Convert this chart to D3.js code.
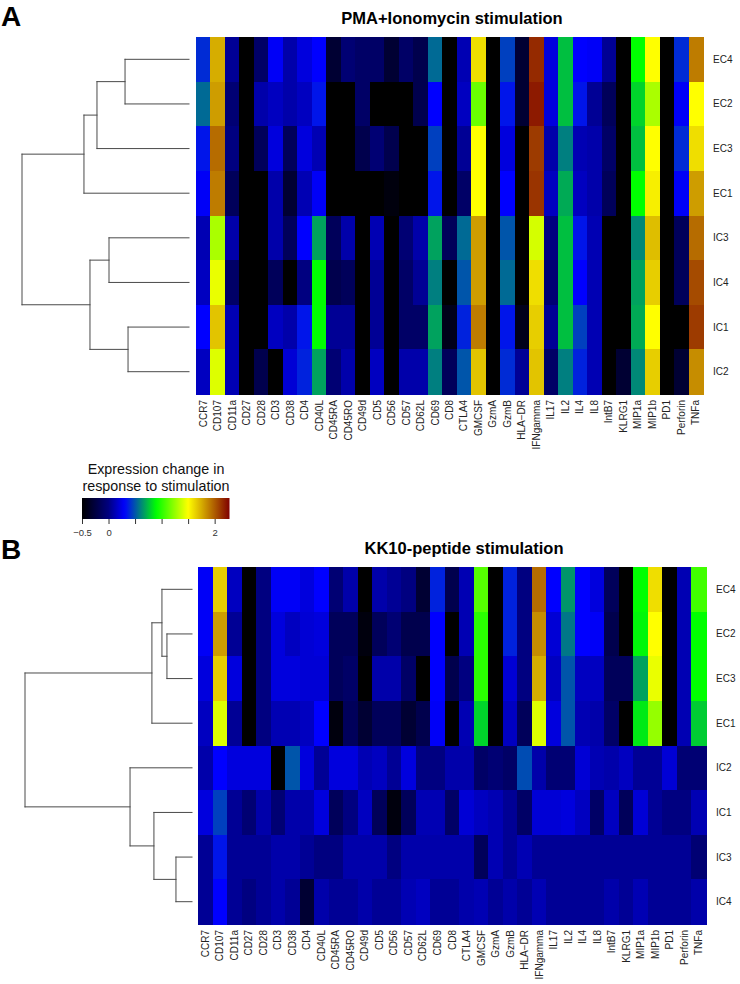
<!DOCTYPE html>
<html>
<head>
<meta charset="utf-8">
<script src="https://cdn.jsdelivr.net/npm/d3@7/dist/d3.min.js"></script>
<style>
  html, body { margin: 0; padding: 0; background: #fff; }
  svg { display: block; font-family: "Liberation Sans", Arial, Helvetica, sans-serif; }
</style>
</head>
<body>
<svg id="chart" width="740" height="984"></svg>
<script>
// ---------------- DATA ----------------
const markers = ["CCR7","CD107","CD11a","CD27","CD28","CD3","CD38","CD4","CD40L","CD45RA","CD45RO","CD49d","CD5","CD56","CD57","CD62L","CD69","CD8","CTLA4","GMCSF","GzmA","GzmB","HLA\u2212DR","IFNgamma","IL17","IL2","IL4","IL8","IntB7","KLRG1","MIP1a","MIP1b","PD1","Perforin","TNFa"];

const rowsA = ["EC4","EC2","EC3","EC1","IC3","IC4","IC1","IC2"];
const valuesA = [
  [0.4, 1.75, 0.05, -0.5, -0.1, 0.28, 0.1, 0.22, 0.3, -0.3, -0.05, -0.1, -0.1, -0.3, -0.1, -0.2, 0.55, -0.5, 0.12, 1.6, -0.5, 0.45, -0.3, 2.15, 0.22, 0.75, 0.3, 0.28, 0.05, -0.5, 0.9, 1.5, -0.5, 0.4, 1.9],
  [0.55, 1.8, -0.05, -0.5, 0.1, 0.15, 0.1, 0.15, 0.35, -0.5, -0.5, -0.1, -0.5, -0.5, -0.5, -0.2, 0.3, -0.5, 0.15, 1.15, -0.5, 0.35, -0.3, 2.2, 0.22, 0.75, 0.35, 0.05, -0.15, -0.5, 0.8, 1.3, -0.5, 0.28, 1.5],
  [0.35, 1.95, 0, -0.5, -0.15, 0.22, -0.15, 0.22, 0.12, -0.5, -0.5, -0.2, -0.05, -0.2, -0.5, -0.5, 0.45, -0.5, 0.05, 1.5, -0.5, 0.22, -0.5, 2.1, 0.1, 0.6, 0.12, 0.1, -0.1, -0.5, 0.75, 1.5, -0.5, 0.4, 1.6],
  [0.28, 1.9, -0.15, -0.5, -0.5, 0.1, -0.3, 0.12, 0.28, -0.5, -0.5, -0.5, -0.5, -0.45, -0.5, -0.5, 0.35, -0.5, -0.1, 1.5, -0.5, 0.3, -0.5, 2.12, 0.15, 0.7, 0.15, 0.1, -0.15, -0.5, 0.9, 1.55, -0.5, 0.28, 1.8],
  [0.12, 1.3, 0.1, -0.5, -0.5, 0.1, -0.15, 0.3, 0.68, -0.15, 0.1, -0.5, 0.12, -0.5, -0.05, 0.1, 0.68, -0.15, 0.55, 1.8, -0.5, 0.5, -0.5, 1.4, 0, 0.75, 0.35, 0.12, -0.5, -0.5, 0.62, 1.7, -0.5, -0.15, 1.95],
  [0.15, 1.45, -0.1, -0.5, -0.5, -0.15, -0.5, 0, 0.9, -0.2, -0.15, -0.5, 0.05, -0.5, -0.1, 0.05, 0.6, -0.5, 0.5, 1.8, -0.5, 0.55, -0.5, 1.6, -0.05, 0.75, 0.3, 0.12, -0.5, -0.5, 0.68, 1.65, -0.5, -0.15, 2.05],
  [0.3, 1.68, 0.12, -0.5, -0.5, 0.15, 0.1, 0.35, 0.9, 0.05, 0.05, -0.5, 0.05, -0.5, -0.1, -0.1, 0.68, -0.4, 0.38, 1.9, -0.5, 0.35, -0.4, 1.65, 0.05, 0.75, 0.45, 0.12, -0.5, -0.5, 0.7, 1.5, -0.5, -0.5, 2.1],
  [0.15, 1.42, 0.12, -0.5, -0.2, -0.5, 0.2, 0.38, 0.68, -0.05, 0.1, -0.5, 0.15, -0.5, 0.1, 0.1, 0.6, -0.15, 0.5, 1.68, -0.5, 0.4, 0.05, 1.68, -0.1, 0.6, 0.38, 0.12, -0.5, -0.3, 0.62, 1.65, -0.5, -0.3, 1.85]
];

const rowsB = ["EC4","EC2","EC3","EC1","IC2","IC1","IC3","IC4"];
const valuesB = [
  [0.28, 1.65, 0.15, -0.5, 0, 0.28, 0.28, 0.22, 0.3, -0.05, 0.1, -0.5, 0.1, 0.05, 0, -0.3, 0.38, -0.2, 0.12, 1.1, -0.5, 0.38, 0, 1.95, 0.3, 0.65, 0.3, 0.22, -0.15, -0.5, 0.9, 1.6, -0.5, 0.12, 1.05],
  [0.28, 1.8, 0.05, -0.5, 0, 0.22, 0.15, 0.2, 0.22, -0.15, -0.15, -0.45, -0.15, -0.05, -0.2, -0.2, 0.3, -0.5, 0.12, 1.0, -0.5, 0.38, 0, 1.85, 0.2, 0.58, 0.3, 0.28, -0.2, -0.5, 0.88, 1.5, -0.5, 0.12, 0.9],
  [0.22, 1.65, 0.22, -0.5, 0, 0.22, 0.22, 0.2, 0.2, -0.15, -0.1, -0.5, 0.1, 0.1, -0.1, -0.5, 0.3, -0.2, 0, 1.0, -0.5, 0.2, 0, 1.75, 0.15, 0.5, 0.15, 0.15, -0.15, -0.15, 0.68, 1.45, -0.5, 0.12, 0.9],
  [0.15, 1.42, 0.05, -0.5, 0, 0.12, 0.12, 0.15, 0.3, -0.45, -0.15, -0.3, -0.15, -0.15, -0.3, -0.2, 0.28, -0.5, 0.12, 0.8, -0.5, 0.15, -0.15, 1.42, 0.22, 0.5, 0.12, 0.1, -0.1, -0.5, 0.85, 1.25, -0.5, 0.12, 0.78],
  [0.1, 0.3, 0.22, 0.22, 0.22, -0.5, 0.5, 0.22, 0.05, 0.22, 0.22, 0.12, 0.15, 0.05, 0.22, 0, 0, 0.1, 0.1, -0.1, -0.05, -0.1, 0.48, 0.1, -0.05, -0.05, 0.2, 0.12, 0.1, 0.15, 0.05, 0.05, 0.2, -0.05, -0.05],
  [0.22, 0.45, 0.05, -0.05, 0.1, -0.05, 0.1, 0.1, 0.22, -0.15, 0, 0.15, -0.15, -0.45, -0.15, 0.12, 0.12, -0.1, 0.2, 0.15, 0.12, 0.05, -0.1, 0.2, 0.2, 0.22, 0.15, -0.1, 0.15, -0.15, 0.2, 0.05, 0, 0, 0.12],
  [0.05, 0.35, 0.05, 0.05, 0.05, 0.1, 0.1, 0.05, 0, 0, 0.1, 0.1, 0.1, 0, 0.1, 0.1, 0.1, 0.1, 0.1, -0.15, 0.12, 0.05, 0.12, 0.05, 0.05, 0.05, 0.05, 0.05, 0.05, 0.05, 0.05, 0.05, 0.05, 0.05, -0.05],
  [0.05, 0.3, 0.05, 0, 0.05, 0.1, 0.05, -0.3, 0.1, 0.05, 0.05, 0.1, 0.05, 0.05, 0.12, 0.15, 0.05, 0.05, 0.1, 0.12, 0.05, 0.1, 0.05, 0.12, 0.05, 0.05, 0.05, 0.05, 0.1, 0.05, 0.12, 0.05, 0.05, 0.05, 0.1]
];

// dendrogram merges: [left, right, height, id]
const mergesA = [
  ["EC4","EC2",3.83,"a1"],
  ["a1","EC3",5.51,"a2"],
  ["a2","EC1",6.29,"a3"],
  ["IC3","IC4",4.79,"a4"],
  ["IC1","IC2",3.65,"a5"],
  ["a4","a5",5.93,"a6"],
  ["a3","a6",10,"a7"]
];
const mergesB = [
  ["EC2","EC3",1.5,"b1"],
  ["EC4","b1",1.8,"b2"],
  ["b2","EC1",2.4,"b3"],
  ["IC3","IC4",0.96,"b4"],
  ["IC1","b4",2.28,"b5"],
  ["IC2","b5",3.71,"b6"],
  ["b3","b6",10,"b7"]
];

const colorStops = [-0.5, 0.0, 0.3, 0.9, 1.5, 2.28];
const colorRange = ["#000000", "#000080", "#0000ff", "#00ff00", "#ffff00", "#800000"];
const legendTicks = [-0.5, 0, 0.5, 1, 1.5, 2];
const titles = ["PMA+Ionomycin stimulation", "KK10-peptide stimulation"];
const panelLetters = ["A", "B"];
const legendTitle = ["Expression change in", "response to stimulation"];

// ---------------- DRAW ----------------
const svg = d3.select("#chart");
const color = d3.scaleLinear().domain(colorStops).range(colorRange).interpolate(d3.interpolateRgb).clamp(true);

function panel(cfg) {
  const g = svg.append("g");
  const x = d3.scaleBand().domain(markers).range([cfg.x0, cfg.x1]);
  const y = d3.scaleBand().domain(cfg.rows).range([cfg.y0, cfg.y1]);

  // cells
  const cells = [];
  cfg.values.forEach((row, i) => row.forEach((v, j) => cells.push({r: cfg.rows[i], c: markers[j], v})));
  g.append("g").selectAll("rect").data(cells).join("rect")
    .attr("x", d => x(d.c)).attr("y", d => y(d.r))
    .attr("width", x.bandwidth() + 0.5).attr("height", y.bandwidth() + 0.5)
    .attr("fill", d => color(d.v))
    .attr("shape-rendering", "crispEdges");

  // column labels
  g.append("g").selectAll("text").data(markers).join("text")
    .attr("transform", d => `translate(${x(d) + x.bandwidth()/2 + 3.5},${cfg.y1 + 6}) rotate(-90)`)
    .attr("text-anchor", "end")
    .attr("font-size", 10).attr("fill", "#222")
    .text(d => d);

  // row labels
  g.append("g").selectAll("text").data(cfg.rows).join("text")
    .attr("x", cfg.x1 + 10).attr("y", d => y(d) + y.bandwidth()/2 + 3.5)
    .attr("font-size", 10).attr("fill", "#222")
    .text(d => d);

  // title
  g.append("text").attr("x", cfg.titleX).attr("y", cfg.y0 - 13)
    .attr("text-anchor", "middle").attr("font-size", 16.5).attr("font-weight", "bold")
    .text(cfg.title);
  g.append("text").attr("x", 1).attr("y", cfg.letterY)
    .attr("font-size", 28).attr("font-weight", "bold").text(cfg.letter);

  // dendrogram
  const hx = d3.scaleLinear().domain([0, 10]).range([cfg.leafX, cfg.rootX]);
  const nodes = {};
  cfg.rows.forEach(r => nodes[r] = {y: y(r) + y.bandwidth()/2, h: 0});
  const segs = [];
  cfg.merges.forEach(([a, b, h, id]) => {
    const na = nodes[a], nb = nodes[b];
    const xm = hx(h);
    segs.push([xm, na.y, xm, nb.y]);
    segs.push([xm, na.y, hx(na.h), na.y]);
    segs.push([xm, nb.y, hx(nb.h), nb.y]);
    nodes[id] = {y: (na.y + nb.y) / 2, h};
  });
  g.append("g").selectAll("line").data(segs).join("line")
    .attr("x1", d => d[0]).attr("y1", d => d[1]).attr("x2", d => d[2]).attr("y2", d => d[3])
    .attr("stroke", "#4a4a4a").attr("stroke-width", 1).attr("stroke-linecap", "square");
}

panel({x0: 196, x1: 703, y0: 37, y1: 394, rows: rowsA, values: valuesA, merges: mergesA,
       leafX: 189, rootX: 22, title: titles[0], titleX: 452, letter: panelLetters[0], letterY: 26});
panel({x0: 198, x1: 706, y0: 567, y1: 924, rows: rowsB, values: valuesB, merges: mergesB,
       leafX: 192, rootX: 25, title: titles[1], titleX: 464, letter: panelLetters[1], letterY: 559});

// legend
const lx = d3.scaleLinear().domain([-0.5, 2.28]).range([82, 229.5]);
const defs = svg.append("defs");
const grad = defs.append("linearGradient").attr("id", "cbar").attr("x1", "0%").attr("x2", "100%");
d3.range(0, 1.0001, 0.02).forEach(t => {
  const v = -0.5 + t * 2.78;
  grad.append("stop").attr("offset", (t * 100) + "%").attr("stop-color", color(v));
});
const lg = svg.append("g");
lg.selectAll("text.lt").data(legendTitle).join("text").attr("class", "lt")
  .attr("x", 156).attr("y", (d, i) => 474 + i * 17)
  .attr("text-anchor", "middle").attr("font-size", 14.3).attr("fill", "#111")
  .text(d => d);
lg.append("rect").attr("x", 82).attr("y", 498).attr("width", 147.5).attr("height", 21).attr("fill", "url(#cbar)");
const axis = d3.axisBottom(lx).tickValues(legendTicks).tickSize(5).tickFormat(d => d < 0 ? "\u22120.5" : d3.format("")(d));
const ax = lg.append("g").attr("transform", "translate(0,519)").call(axis);
ax.select(".domain").remove();
ax.selectAll(".tick line").attr("stroke", "#333");
ax.selectAll(".tick text").attr("font-size", 9.5).attr("fill", "#333").attr("dy", "0.9em")
  .attr("font-family", "'Liberation Sans', Arial, sans-serif");
// middle labels are hidden/overplotted in the reference: show only fragments
defs.append("clipPath").attr("id", "clip05").append("rect").attr("x", -2).attr("y", 7).attr("width", 3).attr("height", 3);
defs.append("clipPath").attr("id", "clip15").append("rect").attr("x", 1).attr("y", 7).attr("width", 8).attr("height", 3.5);
ax.selectAll(".tick").filter(d => d === 0.5).select("text").attr("clip-path", "url(#clip05)");
ax.selectAll(".tick").filter(d => d === 1).select("text").remove();
ax.selectAll(".tick").filter(d => d === 1.5).select("text").attr("clip-path", "url(#clip15)");
</script>
</body>
</html>
